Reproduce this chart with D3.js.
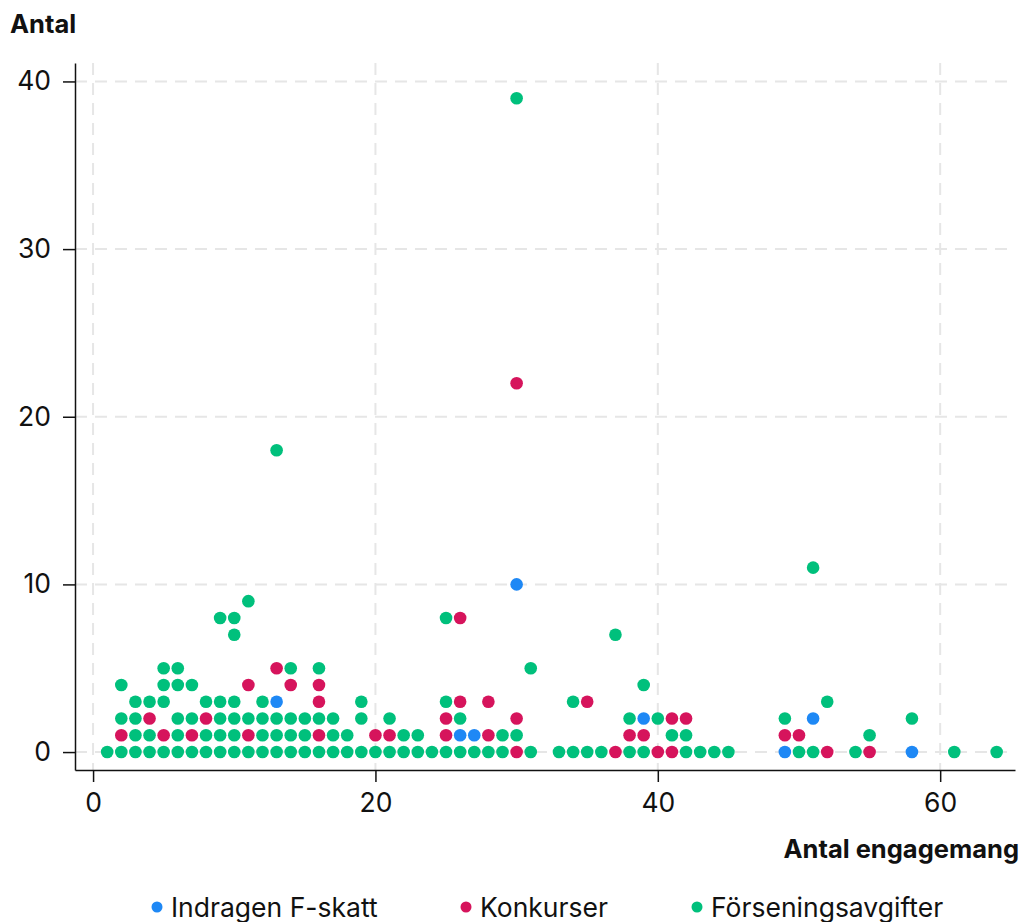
<!DOCTYPE html>
<html><head><meta charset="utf-8">
<script src="https://cdn.jsdelivr.net/npm/d3@7"></script>
<style>body{margin:0;background:#fff}svg{display:block;font-family:Inter,"Noto Sans",sans-serif}</style>
</head><body><div id="chart"></div>
<script>
const seriesNames = ["Indragen F-skatt", "Konkurser", "Förseningsavgifter"];
const seriesColors = ["#1e88f5", "#d6145c", "#00c07c"];
const xTicks = [0, 20, 40, 60];
const yTicks = [0, 10, 20, 30, 40];
// [antal engagemang, antal]
const fskatt = [[13,3],[26,1],[27,1],[30,10],[39,2],[49,0],[51,2],[58,0]];
const konkurser = [[2,1],[4,2],[5,1],[7,1],[8,2],[11,1],[11,4],[13,5],[14,4],[16,1],[16,3],[16,4],[20,1],[21,1],[25,1],[25,2],[26,3],[26,8],[28,1],[28,3],[30,0],[30,2],[30,22],[35,3],[37,0],[38,1],[39,1],[40,0],[41,0],[41,2],[42,2],[49,1],[50,1],[52,0],[55,0]];
const forsening = [
 [1,0],
 [2,0],[2,2],[2,4],
 [3,0],[3,1],[3,2],[3,3],
 [4,0],[4,1],[4,3],
 [5,0],[5,3],[5,4],[5,5],
 [6,0],[6,1],[6,2],[6,4],[6,5],
 [7,0],[7,2],[7,4],
 [8,0],[8,1],[8,3],
 [9,0],[9,1],[9,2],[9,3],[9,8],
 [10,0],[10,1],[10,2],[10,3],[10,7],[10,8],
 [11,0],[11,2],[11,9],
 [12,0],[12,1],[12,2],[12,3],
 [13,0],[13,1],[13,2],[13,18],
 [14,0],[14,1],[14,2],[14,5],
 [15,0],[15,1],[15,2],
 [16,0],[16,2],[16,5],
 [17,0],[17,1],[17,2],
 [18,0],[18,1],
 [19,0],[19,2],[19,3],
 [20,0],[21,0],[21,2],[22,0],[22,1],[23,0],[23,1],[24,0],
 [25,0],[25,3],[25,8],
 [26,0],[26,2],
 [27,0],[28,0],[29,0],[29,1],
 [30,1],[30,39],
 [31,0],[31,5],[33,0],[34,0],[34,3],[35,0],[36,0],[37,7],
 [38,0],[38,2],[39,0],[39,4],[40,2],[41,1],[42,0],[42,1],[43,0],[44,0],[45,0],
 [49,2],[50,0],[51,0],[51,11],[52,3],[54,0],[55,1],[58,2],[61,0],[64,0]
];
const series = [fskatt, konkurser, forsening];

const W = 1022, H = 922;
const svg = d3.select("#chart").append("svg").attr("width", W).attr("height", H);
const mLeft = 75, mRight = 1015, mTop = 63, mBottom = 770;
const x = d3.scaleLinear().domain([-1.28, 65.3]).range([mLeft, mRight]);
const y = d3.scaleLinear().domain([-1.07, 41.1]).range([mBottom, mTop]);

// grid
const grid = svg.append("g").attr("stroke", "#e6e6e6").attr("stroke-width", 2).attr("stroke-dasharray", "12,8");
grid.selectAll("line.v").data(xTicks).join("line").attr("class", "v")
  .attr("x1", d => x(d)).attr("x2", d => x(d)).attr("y1", mTop).attr("y2", mBottom);
grid.selectAll("line.h").data(yTicks).join("line").attr("class", "h")
  .attr("y1", d => y(d)).attr("y2", d => y(d)).attr("x1", mLeft).attr("x2", mRight);

// axes
const xAxis = svg.append("g").attr("transform", `translate(0,${mBottom})`)
  .call(d3.axisBottom(x).tickValues(xTicks).tickSize(12).tickPadding(11).tickSizeOuter(0));
const yAxis = svg.append("g").attr("transform", `translate(${mLeft},0)`)
  .call(d3.axisLeft(y).tickValues(yTicks).tickSize(12).tickPadding(12).tickSizeOuter(0));
[xAxis, yAxis].forEach(a => {
  a.select(".domain").attr("stroke", "#111").attr("stroke-width", 1.5);
  a.selectAll(".tick line").attr("stroke", "#111").attr("stroke-width", 1.5);
  a.selectAll(".tick text").attr("font-size", 26.5).attr("fill", "#111").attr("font-family", "Inter, sans-serif");
});

// points
series.forEach((s, i) => {
  svg.append("g").selectAll("circle").data(s).join("circle")
    .attr("cx", d => x(d[0])).attr("cy", d => y(d[1])).attr("r", 6.3)
    .attr("fill", seriesColors[i]);
});

// titles
svg.append("text").attr("x", 10).attr("y", 33).attr("font-size", 25.5).attr("font-weight", 700)
  .attr("fill", "#111").text("Antal");
svg.append("text").attr("x", 1019).attr("y", 858).attr("text-anchor", "end").attr("font-size", 25.5)
  .attr("font-weight", 700).attr("fill", "#111").text("Antal engagemang");

// legend
const legX = [157, 466, 697];
const leg = svg.append("g").selectAll("g").data(seriesNames).join("g")
  .attr("transform", (d, i) => `translate(${legX[i]},907)`);
leg.append("circle").attr("r", 5.5).attr("fill", (d, i) => seriesColors[i]);
leg.append("text").attr("x", 14).attr("y", 10).attr("font-size", 26.5).attr("fill", "#111").text(d => d);
</script></body></html>
